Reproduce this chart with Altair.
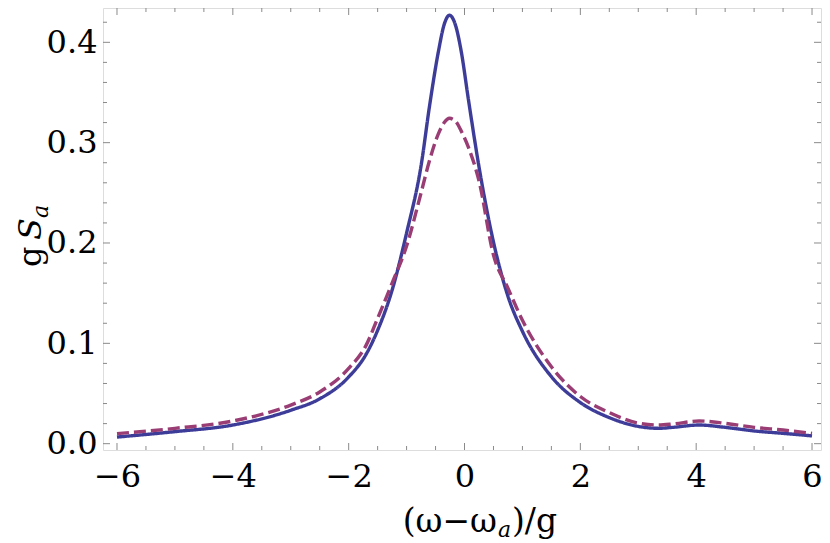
import altair as alt
import pandas as pd

# ---- data ----
xs = [-6.0, -5.0, -4.0, -3.0, -2.5, -2.0, -1.7, -1.5, -1.25, -1.0, -0.75, -0.6,
      -0.45, -0.35, -0.26, -0.15, -0.06, 0.07, 0.25, 0.5, 0.75, 1.0, 1.5, 2.0,
      2.5, 3.0, 3.35, 3.6, 4.05, 4.5, 5.0, 5.5, 6.0]
solid = [0.0066, 0.0120, 0.0186, 0.0333, 0.0447, 0.0665, 0.089, 0.113, 0.153,
         0.210, 0.277, 0.338, 0.391, 0.418, 0.427, 0.416, 0.392, 0.342, 0.276,
         0.201, 0.147, 0.112, 0.0668, 0.041, 0.026, 0.0172, 0.0153, 0.0163,
         0.0186, 0.0163, 0.0127, 0.0103, 0.0078]
dashed = [0.0100, 0.0153, 0.0226, 0.0385, 0.0515, 0.075, 0.098, 0.125, 0.160,
          0.197, 0.250, 0.283, 0.309, 0.320, 0.3243, 0.321, 0.312, 0.295, 0.262,
          0.188, 0.155, 0.123, 0.0767, 0.047, 0.031, 0.0205, 0.0186, 0.0196,
          0.0226, 0.0203, 0.0163, 0.0136, 0.0103]
series_names = ["solid", "dashed"]

x_major = [-6, -4, -2, 0, 2, 4, 6]
x_minor = [-5.5, -5, -4.5, -3.5, -3, -2.5, -1.5, -1, -0.5, 0.5, 1, 1.5,
           2.5, 3, 3.5, 4.5, 5, 5.5]
y_major = [0.0, 0.1, 0.2, 0.3, 0.4]
y_minor = [0.02, 0.04, 0.06, 0.08, 0.12, 0.14, 0.16, 0.18, 0.22, 0.24, 0.26,
           0.28, 0.32, 0.34, 0.36, 0.38, 0.42]

# ---- layout / style ----
W, H = 718, 442
FONT = "DejaVu Serif"
FS = 32
TICK_COLOR = "#8a8a8a"
C_SOLID = "#3d3d99"
C_DASH = "#993d74"

xscale = alt.Scale(domain=[-6.2417, 6.155], nice=False, zero=False)
yscale = alt.Scale(domain=[-0.0063, 0.4342], nice=False, zero=False)

xaxis = alt.Axis(values=x_major, format="d", ticks=False, tickSize=0,
                 domain=False, grid=False, labelFont=FONT,
                 labelFontSize=FS, labelColor="black",
                 labelPadding=36, labelBaseline="alphabetic",
                 labelFlush=False, labelOverlap=False, title=None)
yaxis = alt.Axis(values=y_major, format=".1f", ticks=False, tickSize=0,
                 domain=False, grid=False, labelFont=FONT,
                 labelFontSize=FS, labelColor="black",
                 labelPadding=6, labelFlush=False, labelOverlap=False,
                 title=None)

rows = []
for name, vals in zip(series_names, [solid, dashed]):
    for xv, yv in zip(xs, vals):
        rows.append({"x": xv, "y": yv, "s": name})
df = pd.DataFrame(rows)

lines = alt.Chart(df).mark_line(interpolate="monotone", strokeWidth=3.4).encode(
    x=alt.X("x:Q", scale=xscale, axis=xaxis),
    y=alt.Y("y:Q", scale=yscale, axis=yaxis),
    color=alt.Color("s:N", scale=alt.Scale(domain=series_names, range=[C_SOLID, C_DASH]),
                    legend=None),
    strokeDash=alt.StrokeDash("s:N", scale=alt.Scale(domain=series_names,
                                                      range=[[1, 0], [12, 5]]),
                              legend=None),
)


def xticks(vals, length):
    d = pd.DataFrame({"x": vals})
    bottom = alt.Chart(d).mark_rule(color=TICK_COLOR, strokeWidth=1).encode(
        x=alt.X("x:Q", scale=xscale, axis=xaxis),
        y=alt.value(H), y2=alt.value(H - length))
    top = alt.Chart(d).mark_rule(color=TICK_COLOR, strokeWidth=1).encode(
        x=alt.X("x:Q", scale=xscale, axis=xaxis),
        y=alt.value(0), y2=alt.value(length))
    return [bottom, top]


def yticks(vals, length):
    d = pd.DataFrame({"y": vals})
    left = alt.Chart(d).mark_rule(color=TICK_COLOR, strokeWidth=1).encode(
        y=alt.Y("y:Q", scale=yscale, axis=yaxis),
        x=alt.value(0), x2=alt.value(length))
    right = alt.Chart(d).mark_rule(color=TICK_COLOR, strokeWidth=1).encode(
        y=alt.Y("y:Q", scale=yscale, axis=yaxis),
        x=alt.value(W), x2=alt.value(W - length))
    return [left, right]


tick_layers = xticks(x_major, 7) + xticks(x_minor, 4) + yticks(y_major, 7) + yticks(y_minor, 4)


def label(text, x, y, size=FS, italic=False, align="left", angle=0):
    kw = dict(text=text, font=FONT, fontSize=size, align=align,
              baseline="alphabetic", color="black")
    if italic:
        kw["fontStyle"] = "italic"
    if angle:
        kw["angle"] = angle
    return alt.Chart(pd.DataFrame({"k": [0]})).mark_text(**kw).encode(
        x=alt.value(x), y=alt.value(y))


# x title: (ω−ω_a)/g
xt_base = 524
titles = [
    label("(ω−ω", 394, xt_base, size=33, align="right"),
    label("a", 395, xt_base + 5, size=22, italic=True),
    label(")/g", 409, xt_base, size=33),
    # y title: g S_a (rotated)
    label("g", -62, 259, size=32, align="left", angle=270),
    label("S", -62, 232, size=32, italic=True, align="left", angle=270),
    label("a", -55, 210, size=22, italic=True, align="left", angle=270),
]

chart = alt.layer(lines, *tick_layers, *titles).properties(
    width=W, height=H,
    autosize=alt.AutoSizeParams(type="none"),
    padding={"left": 95, "top": 0, "right": 1, "bottom": 91},
).configure_view(stroke=TICK_COLOR, strokeWidth=1).configure(background="white")

chart.save("out.html", embed_options={"renderer": "svg", "actions": False})
